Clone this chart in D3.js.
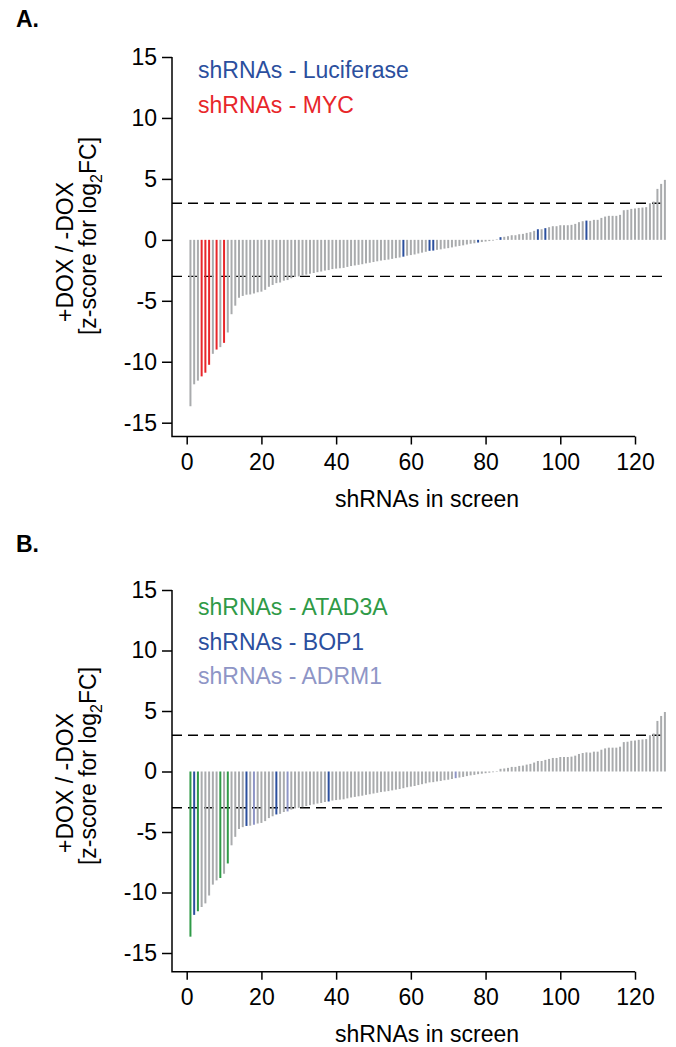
<!DOCTYPE html>
<html>
<head>
<meta charset="utf-8">
<script src="https://cdn.jsdelivr.net/npm/d3@7"></script>
<style>
  body { margin: 0; background: #fff; }
  #chart { width: 676px; height: 1047px; }
  text { font-family: "Liberation Sans", Arial, sans-serif; }
  .axis text { font-size: 23px; fill: #000; }
  .axis path, .axis line { stroke: #000; stroke-width: 1.5; }
</style>
</head>
<body>
<div id="chart"></div>
<script>

// z-scores for log2FC, sorted, one per shRNA in the screen (same screen in both panels)
const zScores = [
  -13.65, -11.85, -11.55, -11.2, -10.9, -10.25, -9.35, -9.0, -8.8, -8.45,
  -7.6, -6.1, -5.4, -4.75, -4.6, -4.5, -4.48, -4.4, -4.3, -4.25,
  -4.1, -3.85, -3.7, -3.55, -3.5, -3.35, -3.3, -3.15, -3.05, -3.0,
  -2.95, -2.85, -2.78, -2.72, -2.65, -2.6, -2.52, -2.48, -2.4, -2.36,
  -2.33, -2.3, -2.22, -2.15, -2.1, -2.05, -2.0, -1.93, -1.88, -1.82,
  -1.76, -1.7, -1.66, -1.62, -1.56, -1.5, -1.45, -1.38, -1.3, -1.25,
  -1.2, -1.12, -1.05, -0.98, -0.9, -0.88, -0.82, -0.78, -0.72, -0.68,
  -0.62, -0.55, -0.5, -0.45, -0.38, -0.32, -0.28, -0.22, -0.18, -0.14,
  -0.1, -0.06, 0.04, 0.22, 0.25, 0.3, 0.38, 0.38, 0.46, 0.49,
  0.57, 0.63, 0.74, 0.87, 0.87, 0.96, 1.04, 1.12, 1.12, 1.2,
  1.2, 1.2, 1.23, 1.31, 1.45, 1.53, 1.58, 1.56, 1.64, 1.64,
  1.8, 1.91, 1.97, 1.97, 1.97, 2.05, 2.43, 2.46, 2.54, 2.57,
  2.62, 2.65, 2.68, 3.0, 3.14, 4.18, 4.59, 4.92
];

// highlighted shRNAs (rank in screen)
const luciferaseRanks = [58, 65, 66, 78, 84, 94, 96, 107];
const mycRanks = [4, 5, 6, 8, 10];
const atad3aRanks = [1, 3, 9, 11];
const bop1Ranks = [2, 16, 24, 38];
const adrm1Ranks = [18, 27, 72];

const yTicks = [-15, -10, -5, 0, 5, 10, 15];
const xTicks = [0, 20, 40, 60, 80, 100, 120];
const thresholds = [-3, 3];

const GRAY = "#a9abad";
const BLUE = "#2b4f9e";
const RED = "#e8262a";
const GREEN = "#2f9a47";
const LILAC = "#8e95c6";

const width = 676, height = 1047;

const svg = d3.select("#chart")
    .append("svg")
    .attr("width", width)
    .attr("height", height);

const xScale = d3.scaleLinear()
    .domain([0, 120])
    .range([186.7, 635]);

const bars = zScores.map(function(v, i) { return {rank: i + 1, z: v}; });

// plain hyphen for negative tick labels, like the original figure
const plain = function(d) { return String(d); };

function drawPanel(p) {

    const yScale = d3.scaleLinear()
        .domain([-15, 15])
        .range([p.yBottom, p.yTop]);

    const g = svg.append("g");

    // panel letter
    g.append("text")
        .attr("x", 16)
        .attr("y", p.letterY)
        .attr("font-size", 23)
        .attr("font-weight", "bold")
        .text(p.letter);

    // threshold lines
    g.selectAll(".thresh")
        .data(thresholds)
        .enter()
        .append("line")
            .attr("x1", 172)
            .attr("x2", 668)
            .attr("y1", function(d) { return yScale(d); })
            .attr("y2", function(d) { return yScale(d); })
            .attr("stroke", "#000")
            .attr("stroke-width", 1.4)
            .attr("stroke-dasharray", "10,6");

    // bars
    g.selectAll(".bar")
        .data(bars)
        .enter()
        .append("line")
            .attr("x1", function(d) { return xScale(d.rank); })
            .attr("x2", function(d) { return xScale(d.rank); })
            .attr("y1", yScale(0))
            .attr("y2", function(d) { return yScale(d.z); })
            .attr("stroke", function(d) { return p.colorOf(d.rank); })
            .attr("stroke-width", 2);

    // axes
    const yAxis = g.append("g")
        .attr("class", "axis")
        .attr("transform", "translate(172,0)")
        .call(d3.axisLeft(yScale).tickValues(yTicks).tickFormat(plain).tickSize(10).tickPadding(5));
    yAxis.select(".domain").remove();

    const xAxis = g.append("g")
        .attr("class", "axis")
        .attr("transform", `translate(0,${p.xAxisY})`)
        .call(d3.axisBottom(xScale).tickValues(xTicks).tickFormat(plain).tickSize(8).tickPadding(9));
    xAxis.select(".domain").remove();

    g.append("path")
        .attr("d", `M172,${p.yTop}V${p.xAxisY}H635`)
        .attr("fill", "none")
        .attr("stroke", "#000")
        .attr("stroke-width", 1.5);

    // axis labels
    g.append("text")
        .attr("x", 427)
        .attr("y", p.xAxisY + 70)
        .attr("text-anchor", "middle")
        .attr("font-size", 23)
        .text("shRNAs in screen");

    g.append("text")
        .attr("transform", `translate(73,${p.title1Y}) rotate(-90)`)
        .attr("text-anchor", "middle")
        .attr("font-size", 23)
        .text("+DOX / -DOX");

    const t2 = g.append("text")
        .attr("transform", `translate(96,${p.title2Y}) rotate(-90)`)
        .attr("text-anchor", "middle")
        .attr("font-size", 23);
    t2.append("tspan").text("[z-score for log");
    t2.append("tspan").attr("font-size", 16).attr("dy", 6).text("2");
    t2.append("tspan").attr("dy", -6).text("FC]");

    // legend
    g.selectAll(".legend")
        .data(p.legend)
        .enter()
        .append("text")
            .attr("x", 198)
            .attr("y", function(d, i) { return p.legendY + i * 34.5; })
            .attr("font-size", 23)
            .attr("fill", function(d) { return d.color; })
            .text(function(d) { return d.label; });
}

drawPanel({
    letter: "A.",
    letterY: 27,
    yTop: 57,
    yBottom: 422.7,
    xAxisY: 436.5,
    title1Y: 252,
    title2Y: 236,
    legendY: 78,
    legend: [
        {label: "shRNAs - Luciferase", color: BLUE},
        {label: "shRNAs - MYC", color: RED}
    ],
    colorOf: function(r) {
        if (mycRanks.includes(r)) return RED;
        if (luciferaseRanks.includes(r)) return BLUE;
        return GRAY;
    }
});

drawPanel({
    letter: "B.",
    letterY: 552,
    yTop: 590,
    yBottom: 953,
    xAxisY: 971.7,
    title1Y: 783,
    title2Y: 766,
    legendY: 615,
    legend: [
        {label: "shRNAs - ATAD3A", color: GREEN},
        {label: "shRNAs - BOP1", color: BLUE},
        {label: "shRNAs - ADRM1", color: LILAC}
    ],
    colorOf: function(r) {
        if (atad3aRanks.includes(r)) return GREEN;
        if (bop1Ranks.includes(r)) return BLUE;
        if (adrm1Ranks.includes(r)) return LILAC;
        return GRAY;
    }
});

</script>
</body>
</html>
